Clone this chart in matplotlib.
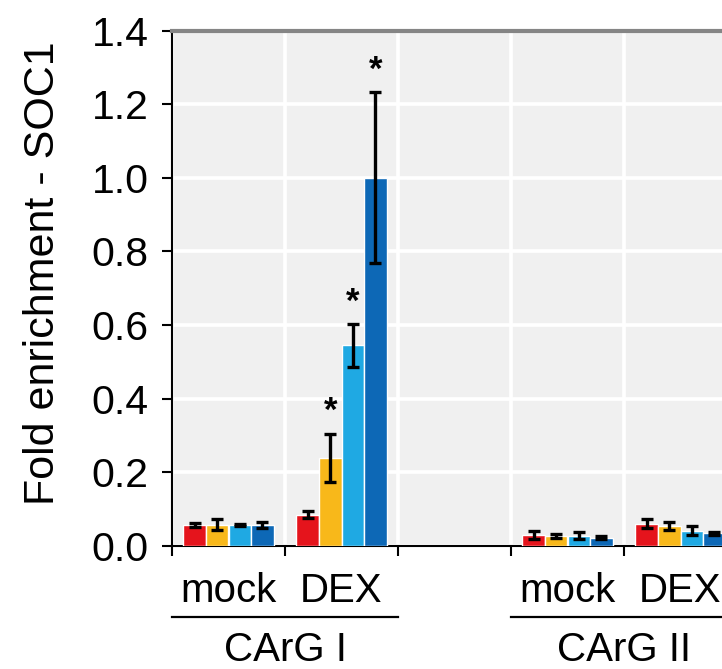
import matplotlib
matplotlib.use("Agg")
import matplotlib.pyplot as plt
import numpy as np
from matplotlib.transforms import blended_transform_factory

plt.rcParams['font.family'] = ['Liberation Sans', 'DejaVu Sans']

# Categories along the x axis (an empty slot separates the two regions)
categories = ["mock", "DEX", "", "mock", "DEX"]
regions = ["CArG I", "CArG II"]
region_centers = [1.0, 4.0]

# Fold enrichment per category, one list per series (4 lines)
series_a = [0.057, 0.085, np.nan, 0.030, 0.060]
series_b = [0.058, 0.240, np.nan, 0.027, 0.054]
series_c = [0.057, 0.545, np.nan, 0.028, 0.042]
series_d = [0.057, 1.000, np.nan, 0.022, 0.034]

err_a = [0.005, 0.010, np.nan, 0.012, 0.012]
err_b = [0.015, 0.065, np.nan, 0.006, 0.010]
err_c = [0.004, 0.058, np.nan, 0.010, 0.012]
err_d = [0.009, 0.232, np.nan, 0.004, 0.005]

# Significance marks: (category index, series index)
significant = [(1, 1), (1, 2), (1, 3)]

colors = ["#E5141C", "#F8B81A", "#1FA9E3", "#0D68B6"]
values = [series_a, series_b, series_c, series_d]
errors = [err_a, err_b, err_c, err_d]

W, H = 722, 669
fig = plt.figure(figsize=(W / 100, H / 100), dpi=100)
left, right, top, bottom = 172, 737, 30.5, 546
ax = fig.add_axes([left / W, 1 - bottom / H, (right - left) / W, (bottom - top) / H])
ax.set_facecolor("#F0F0F0")

n = len(categories)
x = np.arange(n) + 0.5
bw = 0.2
offsets = [-0.3, -0.1, 0.1, 0.3]

for vals, errs, col, off in zip(values, errors, colors, offsets):
    v = np.array(vals, dtype=float)
    e = np.array(errs, dtype=float)
    m = ~np.isnan(v)
    ax.bar(x[m] + off, v[m], width=bw, color=col, edgecolor="white",
           linewidth=1.0, zorder=3)
    ax.errorbar(x[m] + off, v[m], yerr=e[m], fmt="none", ecolor="black",
                elinewidth=2.4, capsize=4.5, capthick=2.4, zorder=4)

for ci, si in significant:
    top_val = values[si][ci] + errors[si][ci]
    ax.text(x[ci] + offsets[si], top_val + 0.06, "*", ha="center", va="center",
            fontsize=25, fontweight="bold", color="black", zorder=5)

ax.set_xlim(0, n)
ax.set_ylim(0, 1.4)
ax.set_yticks(np.arange(0, 1.41, 0.2))
ax.set_yticklabels([f"{t:.1f}" for t in np.arange(0, 1.41, 0.2)])
ax.set_xticks(np.arange(0, n + 1))
ax.set_xticklabels([])

ax.grid(True, color="white", linewidth=2.6, zorder=0)
ax.set_axisbelow(True)

ax.tick_params(axis="y", direction="out", length=7, width=1.5, labelsize=29.5,
               pad=10, colors="black")
ax.tick_params(axis="x", direction="out", length=7, width=1.5)

ax.spines["left"].set_color("black")
ax.spines["left"].set_linewidth(1.5)
ax.spines["bottom"].set_color("black")
ax.spines["bottom"].set_linewidth(1.5)
ax.spines["top"].set_color("#858585")
ax.spines["top"].set_linewidth(3.0)
ax.spines["right"].set_visible(False)

trans = blended_transform_factory(ax.transData, ax.transAxes)
for xi, lab in zip(x, categories):
    if lab:
        ax.text(xi, -0.1086, lab, transform=trans, ha="center", va="baseline",
                fontsize=29, clip_on=False)

for rc, rlab in zip(region_centers, regions):
    ax.plot([rc - 1.0, rc + 1.0], [-0.1377, -0.1377], transform=trans,
            color="black", linewidth=1.6, clip_on=False)
    ax.text(rc, -0.2230, rlab, transform=trans, ha="center", va="baseline",
            fontsize=29, clip_on=False)

fig.text(43 / W, 1 - 273 / H, "Fold enrichment - SOC1", rotation=90,
         ha="center", va="center", fontsize=31)

fig.savefig("out.png", dpi=100)
